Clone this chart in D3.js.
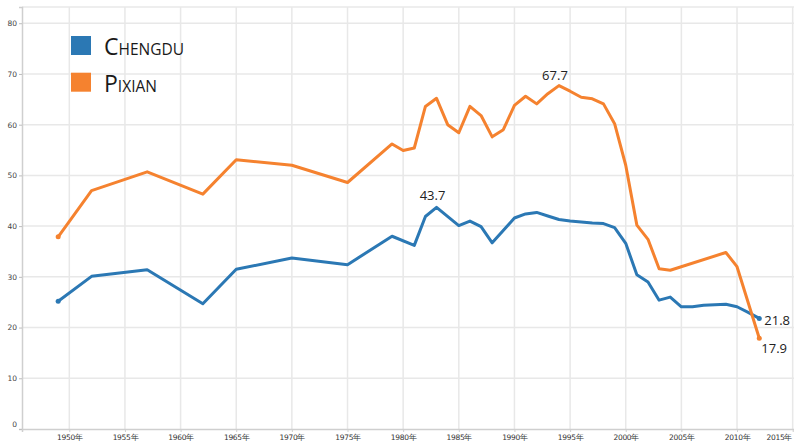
<!DOCTYPE html>
<html>
<head>
<meta charset="utf-8">
<script src="https://cdnjs.cloudflare.com/ajax/libs/d3/7.8.5/d3.min.js"></script>
<style>
  body { margin: 0; background: #fff; }
  svg { display: block; }
</style>
</head>
<body>
<div id="chart"></div>
<script>
// series
const chengduYears = [1949, 1952, 1957, 1962, 1965, 1970, 1975, 1979, 1981, 1982, 1983, 1985, 1986, 1987, 1988, 1990, 1991, 1992, 1993, 1994, 1995, 1996, 1997, 1998, 1999, 2000, 2001, 2002, 2003, 2004, 2005, 2006, 2007, 2008, 2009, 2010, 2011, 2012];
const chengduValues = [25.2, 30.1, 31.4, 24.7, 31.5, 33.7, 32.4, 38.0, 36.2, 41.9, 43.7, 40.1, 41.0, 39.9, 36.7, 41.6, 42.4, 42.7, 42.0, 41.3, 41.0, 40.8, 40.6, 40.5, 39.7, 36.6, 30.4, 29.0, 25.4, 26.0, 24.1, 24.1, 24.4, 24.5, 24.6, 24.1, 23.0, 21.8];

const pixianYears = [1949, 1952, 1957, 1962, 1965, 1970, 1975, 1979, 1980, 1981, 1982, 1983, 1984, 1985, 1986, 1987, 1988, 1989, 1990, 1991, 1992, 1993, 1994, 1995, 1996, 1997, 1998, 1999, 2000, 2001, 2002, 2003, 2004, 2009, 2010, 2012];
const pixianValues = [37.9, 47.0, 50.7, 46.3, 53.1, 52.0, 48.6, 56.2, 54.9, 55.4, 63.6, 65.2, 60.0, 58.4, 63.6, 61.8, 57.6, 59.0, 63.8, 65.6, 64.1, 66.1, 67.7, 66.6, 65.4, 65.1, 64.1, 60.2, 52.0, 40.2, 37.4, 31.6, 31.3, 34.8, 32.0, 17.9];

const seriesNames = ["Chengdu", "Pixian"];
const seriesColors = ["#2b78b4", "#f5822f"];

const yTicks = [0, 10, 20, 30, 40, 50, 60, 70, 80];
const xTicks = [1950, 1955, 1960, 1965, 1970, 1975, 1980, 1985, 1990, 1995, 2000, 2005, 2010, 2015];

// value labels: [series index, year, text]
const callouts = [
  [0, 1983, "43.7"],
  [1, 1994, "67.7"],
  [0, 2012, "21.8"],
  [1, 2012, "17.9"]
];

const width = 794;
const height = 444;

const X_LEFT = 22;
const X_RIGHT = 794;
const Y_BOTTOM = 429;
const Y_TOP = 7;

const GRID_COLOR = "#e8e8e8";
const TEXT_FONT = "'Open Sans', 'Noto Sans', sans-serif";

const svg = d3.select("#chart")
  .append("svg")
  .attr("width", width)
  .attr("height", height);

const x = d3.scaleLinear()
  .domain([1945.75, 2015.12])
  .range([X_LEFT, X_RIGHT]);

const y = d3.scaleLinear()
  .domain([0, 83.2])
  .range([Y_BOTTOM, Y_TOP]);

// ---- grid ----
svg.append("g")
  .selectAll("line.vgrid")
  .data(xTicks)
  .enter()
  .append("line")
  .attr("x1", d => x(d))
  .attr("x2", d => x(d))
  .attr("y1", Y_TOP)
  .attr("y2", Y_BOTTOM)
  .attr("stroke", GRID_COLOR)
  .attr("stroke-width", 1.5);

svg.append("g")
  .selectAll("line.hgrid")
  .data(yTicks.slice(1))
  .enter()
  .append("line")
  .attr("x1", X_LEFT)
  .attr("x2", X_RIGHT)
  .attr("y1", d => y(d))
  .attr("y2", d => y(d))
  .attr("stroke", GRID_COLOR)
  .attr("stroke-width", 1.5);

// top border
svg.append("line")
  .attr("x1", X_LEFT).attr("x2", X_RIGHT)
  .attr("y1", Y_TOP).attr("y2", Y_TOP)
  .attr("stroke", GRID_COLOR)
  .attr("stroke-width", 1.5);

// ---- axes ----
const yAxis = d3.axisLeft(y)
  .tickValues(yTicks)
  .tickSize(3)
  .tickPadding(2);

const yG = svg.append("g")
  .attr("transform", `translate(${X_LEFT},0)`)
  .call(yAxis);
yG.select(".domain").attr("stroke", "#cfcfcf").attr("stroke-width", 1.5);
yG.selectAll(".tick line").attr("stroke", "#bdbdbd");
yG.selectAll(".tick text")
  .attr("fill", "#444")
  .style("font-family", "'DejaVu Sans', sans-serif")
  .style("font-size", "7.5px")
  .attr("dy", "0.32em");
yG.selectAll(".tick")
  .filter(d => d === 0)
  .select("text")
  .attr("dy", "-0.3em");

const xAxis = d3.axisBottom(x)
  .tickValues(xTicks)
  .tickSize(3)
  .tickPadding(3)
  .tickFormat(d => d + "年");

const xG = svg.append("g")
  .attr("transform", `translate(0,${Y_BOTTOM})`)
  .call(xAxis);
xG.select(".domain").attr("stroke", "#cfcfcf").attr("stroke-width", 1.5);
xG.selectAll(".tick line").attr("stroke", "#cfcfcf");
xG.selectAll(".tick text")
  .attr("fill", "#333")
  .style("font-family", "'DejaVu Sans', sans-serif")
  .style("font-size", "7.5px")
  .style("letter-spacing", "-0.3px");
xG.selectAll(".tick")
  .filter(d => d === 2015)
  .select("text")
  .attr("text-anchor", "end")
  .attr("x", -1);

// ---- lines ----
const series = [
  chengduYears.map((yr, i) => [yr, chengduValues[i]]),
  pixianYears.map((yr, i) => [yr, pixianValues[i]])
];

const line = d3.line()
  .x(d => x(d[0]))
  .y(d => y(d[1]));

series.forEach((pts, i) => {
  svg.append("path")
    .attr("d", line(pts))
    .attr("fill", "none")
    .attr("stroke", seriesColors[i])
    .attr("stroke-width", 3)
    .attr("stroke-linejoin", "round")
    .attr("stroke-linecap", "round");

  // end points
  [pts[0], pts[pts.length - 1]].forEach(p => {
    svg.append("circle")
      .attr("cx", x(p[0]))
      .attr("cy", y(p[1]))
      .attr("r", 2.5)
      .attr("fill", seriesColors[i]);
  });
});

// ---- callouts ----
const calloutOffsets = {
  "43.7": [-4, -7, "middle"],
  "67.7": [-4, -6, "middle"],
  "21.8": [5, 7, "start"],
  "17.9": [2, 15, "start"]
};

callouts.forEach(c => {
  const s = c[0];
  const idx = (s === 0 ? chengduYears : pixianYears).indexOf(c[1]);
  const v = (s === 0 ? chengduValues : pixianValues)[idx];
  const off = calloutOffsets[c[2]];
  svg.append("text")
    .attr("x", x(c[1]) + off[0])
    .attr("y", y(v) + off[1])
    .attr("text-anchor", off[2])
    .style("font-family", TEXT_FONT)
    .style("font-size", "13px")
    .attr("fill", "#222")
    .text(c[2]);
});

// ---- legend ----
const legend = svg.append("g")
  .attr("transform", "translate(71,36)");

seriesNames.forEach((name, i) => {
  const g = legend.append("g").attr("transform", `translate(0,${i * 36.7})`);
  g.append("rect")
    .attr("width", 20)
    .attr("height", 19)
    .attr("fill", seriesColors[i]);
  const t = g.append("text")
    .attr("x", 33)
    .attr("y", 19)
    .style("font-family", TEXT_FONT)
    .attr("fill", "#1a1a1a");
  t.append("tspan")
    .style("font-size", "23px")
    .text(name.charAt(0));
  t.append("tspan")
    .style("font-size", "15.5px")
    .text(name.slice(1).toUpperCase());
});
</script>
</body>
</html>
